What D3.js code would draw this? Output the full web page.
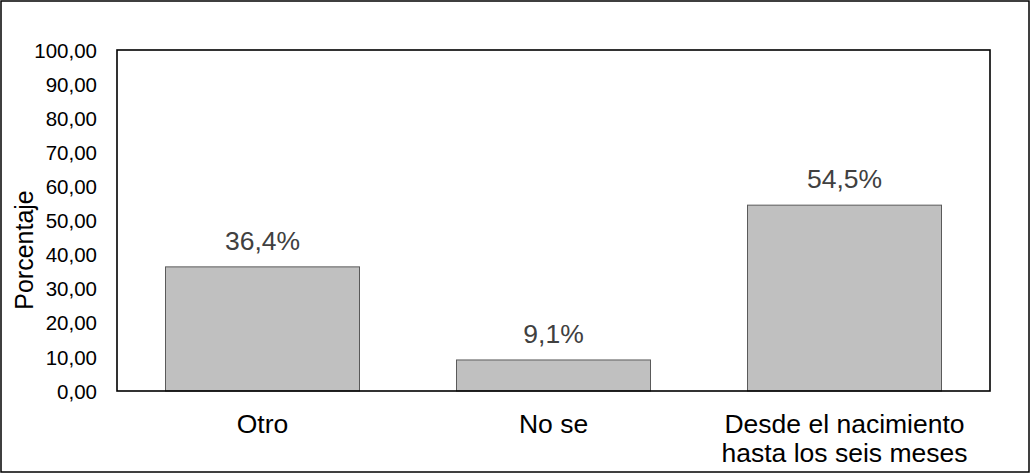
<!DOCTYPE html>
<html><head><meta charset="utf-8">
<script src="https://cdn.jsdelivr.net/npm/d3@7"></script>
<style>
body{margin:0;background:#fff;}
svg{display:block;font-family:"Liberation Sans",Arial,sans-serif;}
</style></head>
<body><svg id="c" width="1030" height="473"></svg>
<script>
const categories = [["Otro"], ["No se"], ["Desde el nacimiento", "hasta los seis meses"]];
const values = [36.4, 9.1, 54.5];
const valueLabels = ["36,4%", "9,1%", "54,5%"];
const yTicks = [0, 10, 20, 30, 40, 50, 60, 70, 80, 90, 100];
const yTitle = "Porcentaje";

const svg = d3.select("#c");
const L = 117, R = 990, T = 50, B = 391;

svg.append("rect").attr("x", 1).attr("y", 1).attr("width", 1028).attr("height", 471)
  .attr("fill", "#fff").attr("stroke", "#000").attr("stroke-width", 1.5);

const x = d3.scaleBand().domain(d3.range(values.length)).range([L, R]).paddingInner(1/3).paddingOuter(1/6);
const y = d3.scaleLinear().domain([0, 100]).range([B, T]);

const fmt = d => d.toFixed(2).replace(".", ",");
const yAxis = d3.axisLeft(y).tickValues(yTicks).tickFormat(fmt).tickSize(0).tickPadding(20);
const gy = svg.append("g").attr("transform", `translate(${L},0)`).call(yAxis);
gy.select(".domain").remove();
gy.selectAll("text").attr("font-size", 20.5).attr("fill", "#000").attr("font-family", "Liberation Sans, Arial, sans-serif").attr("dy", "0.35em");

svg.selectAll("rect.bar").data(values).join("rect").attr("class", "bar")
  .attr("x", (d, i) => x(i)).attr("width", x.bandwidth())
  .attr("y", d => y(d)).attr("height", d => B - y(d))
  .attr("fill", "#c0c0c0").attr("stroke", "#5a5a5a").attr("stroke-width", 1);

svg.selectAll("text.val").data(values).join("text").attr("class", "val")
  .attr("x", (d, i) => x(i) + x.bandwidth() / 2).attr("y", d => y(d) - 17)
  .attr("text-anchor", "middle").attr("font-size", 26.5).attr("fill", "#404040")
  .text((d, i) => valueLabels[i]);

svg.append("rect").attr("x", L).attr("y", T).attr("width", R - L).attr("height", B - T)
  .attr("fill", "none").attr("stroke", "#000").attr("stroke-width", 1.6);

const xAxis = d3.axisBottom(x).tickSize(0).tickFormat(() => "");
const gx = svg.append("g").attr("transform", `translate(0,${B})`).call(xAxis);
gx.select(".domain").remove();
gx.selectAll(".tick").each(function(d) {
  const t = d3.select(this).append("text").attr("text-anchor", "middle").attr("font-size", 26.5).attr("fill", "#000");
  categories[d].forEach((line, j) => {
    t.append("tspan").attr("x", 0).attr("y", 42 + j * 29).text(line);
  });
});

svg.append("text").attr("transform", "translate(33,250) rotate(-90)")
  .attr("text-anchor", "middle").attr("font-size", 25).attr("fill", "#000").text(yTitle);
</script></body></html>
